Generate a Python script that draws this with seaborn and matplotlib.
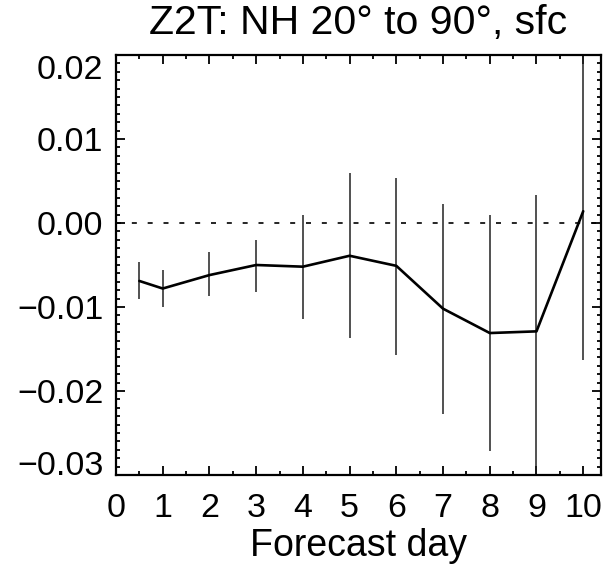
import matplotlib
matplotlib.use("Agg")
import matplotlib.pyplot as plt
import seaborn as sns
import numpy as np
import pandas as pd
from matplotlib.ticker import MultipleLocator, FixedLocator

# ---- data ----
days = [0.5, 1, 2, 3, 4, 5, 6, 7, 8, 9, 10]
mean = [-0.0069, -0.0078, -0.0062, -0.0050, -0.0052, -0.0039, -0.0051,
        -0.0102, -0.0131, -0.0129, 0.0014]
low = [-0.0091, -0.0100, -0.0087, -0.0082, -0.0114, -0.0137, -0.0157,
       -0.0227, -0.0271, -0.0289, -0.0163]
high = [-0.0047, -0.0056, -0.0034, -0.0020, 0.0010, 0.0060, 0.0054,
        0.0023, 0.0009, 0.0033, 0.0205]
xtick_vals = [0, 1, 2, 3, 4, 5, 6, 7, 8, 9, 10]
xtick_labels = ["0", "1", "2", "3", "4", "5", "6", "7", "8", "9", "10"]
ytick_vals = [-0.03, -0.02, -0.01, 0.00, 0.01, 0.02]
ytick_labels = ["\u22120.03", "\u22120.02", "\u22120.01", "0.00", "0.01", "0.02"]
title = "Z2T: NH 20\u00b0 to 90\u00b0, sfc"
xlabel = "Forecast day"

df = pd.DataFrame({"day": days, "mean": mean})

sns.set_theme(style="ticks")
plt.rcParams["font.family"] = ["Liberation Sans", "DejaVu Sans"]

fig = plt.figure(figsize=(6.07, 5.66), dpi=100)
ax = fig.add_axes([116 / 607, 1 - 475 / 566, (600.5 - 116) / 607, (475 - 55) / 566])

# zero line
ax.axhline(0.0, color="black", lw=1.2, dashes=(3, 6.5), zorder=1)
# error bars
ax.vlines(days, low, high, color="#222222", lw=1.1, zorder=2)
# main line
sns.lineplot(data=df, x="day", y="mean", color="black", lw=1.9, ax=ax, zorder=3)

ax.set_xlim(0, 10.37)
ax.set_ylim(-0.03, 0.02)

ax.xaxis.set_major_locator(FixedLocator(xtick_vals))
ax.set_xticklabels(xtick_labels)
ax.xaxis.set_minor_locator(MultipleLocator(0.5))
ax.yaxis.set_major_locator(FixedLocator(ytick_vals))
ax.set_yticklabels(ytick_labels)
ax.yaxis.set_minor_locator(MultipleLocator(0.001))

ax.tick_params(which="both", direction="in", top=True, right=True,
               color="black", labelsize=24.5, labelcolor="black")
ax.tick_params(which="major", length=6.5, width=1.3)
ax.tick_params(which="minor", length=3.2, width=1.3)
ax.tick_params(axis="x", which="major", pad=13)
ax.tick_params(axis="y", which="major", pad=9)

for s in ax.spines.values():
    s.set_linewidth(1.6)
    s.set_color("black")

ylabs = ax.get_yticklabels()
ylabs[-1].set_va("top")
ylabs[0].set_va("baseline")

ax.set_xlabel(xlabel, fontsize=27, labelpad=3, color="black")
ax.set_ylabel("")
ax.set_title(title, fontsize=29.5, pad=15, color="black")

fig.savefig("out.png", dpi=100)
